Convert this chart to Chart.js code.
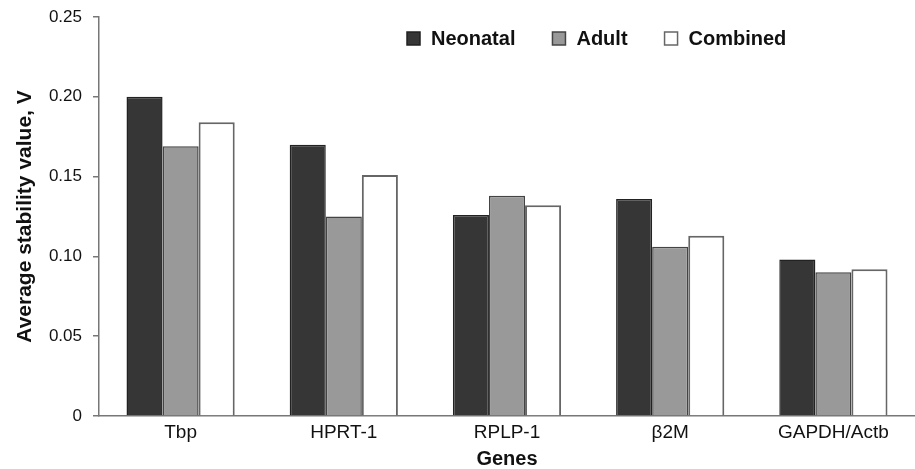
<!DOCTYPE html>
<html>
<head>
<meta charset="utf-8">
<script src="https://cdn.jsdelivr.net/npm/chart.js@4/dist/chart.umd.min.js"></script>
<style>
  html, body { margin: 0; padding: 0; background: #fff; }
  #wrap { width: 915px; height: 469px; }
</style>
</head>
<body>
<div id="wrap"><canvas id="chart" width="915" height="469"></canvas></div>
<script>
const genes = ["Tbp", "HPRT-1", "RPLP-1", "β2M", "GAPDH/Actb"];
const neonatal = [0.200, 0.170, 0.126, 0.136, 0.098];
const adult = [0.169, 0.125, 0.138, 0.106, 0.090];
const combined = [0.184, 0.151, 0.132, 0.113, 0.092];
const yTicks = [0, 0.05, 0.10, 0.15, 0.20, 0.25];

const FONT = "'Liberation Sans', Arial, sans-serif";
const AXIS = "#777";

// legend drawn by hand so it can sit top-right like the original
const legendPlugin = {
  id: "topLegend",
  afterDraw(chart) {
    const ctx = chart.ctx;
    ctx.save();
    ctx.font = "bold 20px " + FONT;
    ctx.textBaseline = "middle";
    let x = 407;
    const y = 38.5;
    chart.data.datasets.forEach((ds) => {
      ctx.fillStyle = ds.backgroundColor;
      ctx.strokeStyle = ds.borderColor;
      ctx.lineWidth = 1.5;
      ctx.fillRect(x, y - 6.5, 13, 13);
      ctx.strokeRect(x, y - 6.5, 13, 13);
      ctx.fillStyle = "#111";
      ctx.fillText(ds.label, x + 24, y + 1);
      x += 24 + ctx.measureText(ds.label).width + 37;
    });
    ctx.restore();
  },
};

new Chart(document.getElementById("chart"), {
  type: "bar",
  data: {
    labels: genes,
    datasets: [
      { label: "Neonatal", data: neonatal, backgroundColor: "#363636", borderColor: "#222", borderWidth: 1.5 },
      { label: "Adult", data: adult, backgroundColor: "#999999", borderColor: "#444", borderWidth: 1.5 },
      { label: "Combined", data: combined, backgroundColor: "#ffffff", borderColor: "#666", borderWidth: 2 },
    ],
  },
  options: {
    responsive: false,
    animation: false,
    categoryPercentage: 0.663,
    barPercentage: 1.0,
    layout: { padding: { top: 17, right: 0, left: 0, bottom: 0 } },
    plugins: {
      legend: { display: false },
      tooltip: { enabled: false },
    },
    scales: {
      x: {
        grid: { display: false, drawTicks: false },
        border: { display: true, color: AXIS, width: 1.5 },
        ticks: { color: "#111", font: { family: FONT, size: 19 }, padding: 5, maxRotation: 0 },
        title: { display: true, text: "Genes", color: "#111", font: { family: FONT, size: 20, weight: "bold", lineHeight: 1.0 }, padding: { top: 0, bottom: 0 } },
        afterFit: (s) => { s.height = 53; },
      },
      y: {
        min: 0,
        max: 0.25,
        afterBuildTicks: (s) => { s.ticks = yTicks.map((v) => ({ value: v })); },
        grid: { display: true, drawOnChartArea: false, drawTicks: true, tickLength: 6, color: AXIS, lineWidth: 1.5 },
        border: { display: true, color: AXIS, width: 1.5 },
        ticks: {
          color: "#111",
          font: { family: FONT, size: 17 },
          padding: 11,
          callback: (v) => (v === 0 ? "0" : Number(v).toFixed(2)),
        },
        title: { display: true, text: "Average stability value, V", color: "#111", font: { family: FONT, size: 21, weight: "bold" }, padding: { top: 13, bottom: 0 } },
        afterFit: (s) => {
          s.width = 99;
          s.paddingTop = 0;
          s.paddingBottom = 0;
        },
      },
    },
  },
  plugins: [legendPlugin],
});
</script>
</body>
</html>
